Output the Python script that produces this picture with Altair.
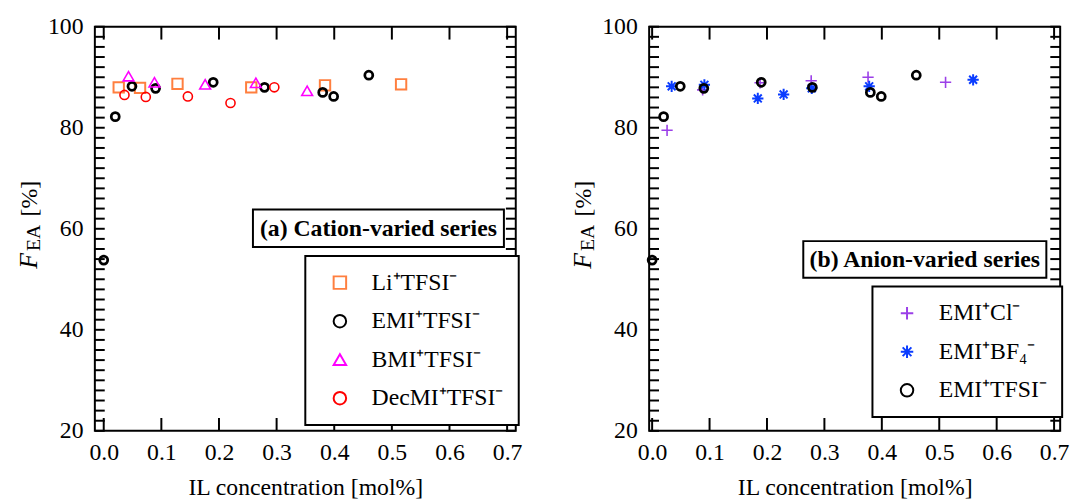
import altair as alt
import pandas as pd

FONT = "Liberation Serif"

# ---------------- data ----------------
# Panel (a) Cation-varied series
li_x = [0.026, 0.063, 0.128, 0.256, 0.384, 0.516]
li_y = [88.0, 87.9, 88.7, 88.0, 88.4, 88.6]
emi_x = [0.0, 0.020, 0.049, 0.090, 0.190, 0.279, 0.380, 0.399, 0.460]
emi_y = [53.8, 82.2, 88.2, 87.8, 89.0, 88.0, 87.0, 86.2, 90.4]
bmi_x = [0.043, 0.088, 0.176, 0.264, 0.353]
bmi_y = [90.2, 89.0, 88.6, 88.9, 87.3]
dec_x = [0.036, 0.073, 0.146, 0.220, 0.296]
dec_y = [86.5, 86.1, 86.2, 84.9, 88.0]
# Panel (b) Anion-varied series
cl_x = [0.026, 0.088, 0.188, 0.277, 0.376, 0.511]
cl_y = [79.5, 87.5, 88.9, 89.3, 90.0, 89.0]
bf4_x = [0.034, 0.091, 0.184, 0.229, 0.278, 0.378, 0.559]
bf4_y = [88.2, 88.5, 85.8, 86.6, 87.8, 88.2, 89.5]

names_a = ["Li⁺TFSI⁻", "EMI⁺TFSI⁻", "BMI⁺TFSI⁻", "DecMI⁺TFSI⁻"]
names_b = ["EMI⁺Cl⁻", "EMI⁺BF₄⁻", "EMI⁺TFSI⁻"]

x_tick_vals = [0.0, 0.1, 0.2, 0.3, 0.4, 0.5, 0.6, 0.7]
y_label_vals = [20, 40, 60, 80, 100]
y_tick_vals = list(range(20, 101, 2))

PLUS = "M-1,0L1,0M0,-1L0,1"
STAR = "M-1,0L1,0M0,-1L0,1M-0.7,-0.7L0.7,0.7M-0.7,0.7L0.7,-0.7"

H = 409
FS = 24


def sdf(xs, ys, name, sz, sw):
    n = len(xs)
    return pd.DataFrame({"x": xs, "y": ys, "s": [name] * n, "sz": [sz] * n, "sw": [sw] * n})


def panel(frames, names, colors, shapes, xdom, W, legx, legy, box, label):
    data = pd.concat(frames, ignore_index=True)
    xs = alt.Scale(domain=xdom, nice=False, zero=False)
    ys = alt.Scale(domain=[20, 100], nice=False, zero=False)
    leg = alt.Legend(title=None, orient="none", legendX=legx, legendY=legy,
                     padding=15, rowPadding=15, labelFont=FONT, labelFontSize=FS,
                     labelColor="black", symbolOffset=8, labelOffset=20,
                     labelLimit=400, strokeColor="black", fillColor="white",
                     symbolSize=160, symbolStrokeWidth=2)
    xaxis = alt.Axis(values=x_tick_vals, format=".1f", ticks=False, domain=False,
                     grid=False, labelFont=FONT, labelFontSize=FS, labelColor="black",
                     labelPadding=10, title="IL concentration [mol%]", titleFont=FONT,
                     titleFontSize=FS, titleFontWeight="normal", titleColor="black",
                     titlePadding=11)
    yaxis = alt.Axis(values=y_label_vals, ticks=False, domain=False, grid=False,
                     labelFont=FONT, labelFontSize=FS, labelColor="black",
                     labelPadding=12, title=None)

    pts = alt.Chart(data).mark_point(filled=False, opacity=1).encode(
        x=alt.X("x:Q", scale=xs, axis=xaxis),
        y=alt.Y("y:Q", scale=ys, axis=yaxis),
        color=alt.Color("s:N", scale=alt.Scale(domain=names, range=colors), legend=leg),
        shape=alt.Shape("s:N", scale=alt.Scale(domain=names, range=shapes), legend=leg),
        size=alt.Size("sz:Q", scale=None),
        strokeWidth=alt.StrokeWidth("sw:Q", scale=None),
    )

    ydf = pd.DataFrame({"y": y_tick_vals})
    xdf = pd.DataFrame({"x": x_tick_vals})
    tick_style = dict(color="black", strokeWidth=2)
    yl = alt.Chart(ydf).mark_rule(**tick_style).encode(
        y=alt.Y("y:Q", scale=ys, axis=yaxis), x=alt.value(0), x2=alt.value(10))
    yr = alt.Chart(ydf).mark_rule(**tick_style).encode(
        y=alt.Y("y:Q", scale=ys, axis=yaxis), x=alt.value(W - 10), x2=alt.value(W))
    xb = alt.Chart(xdf).mark_rule(**tick_style).encode(
        x=alt.X("x:Q", scale=xs, axis=xaxis), y=alt.value(H), y2=alt.value(H - 13))
    xt = alt.Chart(xdf).mark_rule(**tick_style).encode(
        x=alt.X("x:Q", scale=xs, axis=xaxis), y=alt.value(0), y2=alt.value(13))

    one = pd.DataFrame({"t": [label]})
    bx0, bx1, by0, by1 = box
    rect = alt.Chart(one).mark_rect(fill="white", stroke="black", strokeWidth=2).encode(
        x=alt.value(bx0), x2=alt.value(bx1), y=alt.value(by0), y2=alt.value(by1))
    ttl = alt.Chart(one).mark_text(font=FONT, fontSize=FS, fontWeight="bold",
                                   color="black", align="center", baseline="middle").encode(
        x=alt.value((bx0 + bx1) / 2), y=alt.value((by0 + by1) / 2 + 1), text="t:N")

    f = alt.Chart(pd.DataFrame({"t": ["F"]})).mark_text(
        font=FONT, fontSize=26, fontStyle="italic", angle=270, align="left",
        baseline="middle", color="black").encode(
        x=alt.value(-67), y=alt.value(245), text="t:N")
    ea = alt.Chart(pd.DataFrame({"t": ["EA"]})).mark_text(
        font=FONT, fontSize=20, angle=270, align="left",
        baseline="middle", color="black").encode(
        x=alt.value(-62), y=alt.value(227), text="t:N")
    pc = alt.Chart(pd.DataFrame({"t": ["[%]"]})).mark_text(
        font=FONT, fontSize=24, angle=270, align="left",
        baseline="middle", color="black").encode(
        x=alt.value(-66), y=alt.value(192), text="t:N")

    return alt.layer(yl, yr, xb, xt, pts, rect, ttl, f, ea, pc).properties(
        width=W, height=H)


left = panel(
    [sdf(li_x, li_y, names_a[0], 110, 2.0), sdf(emi_x, emi_y, names_a[1], 65, 2.8),
     sdf(bmi_x, bmi_y, names_a[2], 120, 1.6), sdf(dec_x, dec_y, names_a[3], 85, 1.6)],
    names_a, ["#FF7F3F", "#000000", "#FF00FF", "#FF0000"],
    ["square", "circle", "triangle-up", "circle"],
    [-0.0154, 0.715], 426, 213, 232, (160, 414, 185, 223),
    "(a) Cation-varied series")

right = panel(
    [sdf(cl_x, cl_y, names_b[0], 130, 1.6), sdf(bf4_x, bf4_y, names_b[1], 130, 2.0),
     sdf(emi_x, emi_y, names_b[2], 65, 2.8)],
    names_b, ["#9B3FE8", "#0A3CFF", "#000000"],
    [PLUS, STAR, "circle"],
    [-0.0052, 0.7106], 416, 226, 263, (156, 402, 217, 254),
    "(b) Anion-varied series")

chart = alt.hconcat(left, right, spacing=46).resolve_scale(
    color="independent", shape="independent",
    x="independent", y="independent"
).properties(
    padding={"left": 15, "top": 11, "right": 5, "bottom": 0},
    background="white",
).configure(font=FONT).configure_view(stroke="black", strokeWidth=2).configure_legend(
    strokeWidth=2, labelFont=FONT, labelFontSize=FS
).configure_axis(labelFont=FONT, titleFont=FONT, labelFontSize=FS, titleFontSize=FS)

chart.save("out.html", embed_options={"renderer": "svg", "actions": False})
